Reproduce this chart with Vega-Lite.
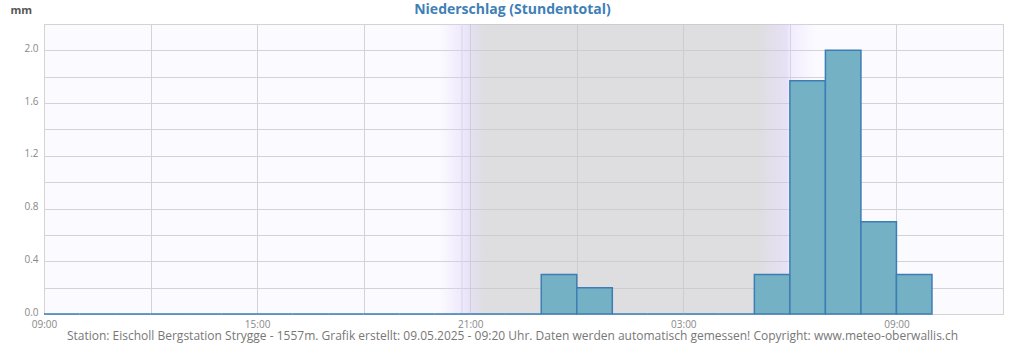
{
  "$schema": "https://vega.github.io/schema/vega-lite/v6.json",
  "width": 959,
  "height": 290,
  "autosize": "none",
  "padding": {"left": 44, "top": 24, "right": 21, "bottom": 36},
  "background": "white",
  "config": {
    "font": "Open Sans",
    "view": {"fill": "#fbfaff", "stroke": "#cccccc"}
  },
  "title": {
    "text": "Niederschlag (Stundentotal)",
    "frame": "group",
    "anchor": "middle",
    "dx": -11,
    "offset": 0,
    "dy": 24,
    "baseline": "alphabetic",
    "fontSize": 14,
    "fontWeight": "bold",
    "color": "#3f7fb6",
    "font": "Open Sans"
  },
  "datasets": {
    "night": [{"start": "2025-05-08T20:09:00Z", "end": "2025-05-09T06:42:00Z"}],
    "sunset": [{"start": "2025-05-08T20:46:00Z"}],
    "rain": [
      {"start": "2025-05-08T09:00:00Z", "end": "2025-05-08T10:00:00Z", "mm": 0},
      {"start": "2025-05-08T10:00:00Z", "end": "2025-05-08T11:00:00Z", "mm": 0},
      {"start": "2025-05-08T11:00:00Z", "end": "2025-05-08T12:00:00Z", "mm": 0},
      {"start": "2025-05-08T12:00:00Z", "end": "2025-05-08T13:00:00Z", "mm": 0},
      {"start": "2025-05-08T13:00:00Z", "end": "2025-05-08T14:00:00Z", "mm": 0},
      {"start": "2025-05-08T14:00:00Z", "end": "2025-05-08T15:00:00Z", "mm": 0},
      {"start": "2025-05-08T15:00:00Z", "end": "2025-05-08T16:00:00Z", "mm": 0},
      {"start": "2025-05-08T16:00:00Z", "end": "2025-05-08T17:00:00Z", "mm": 0},
      {"start": "2025-05-08T17:00:00Z", "end": "2025-05-08T18:00:00Z", "mm": 0},
      {"start": "2025-05-08T18:00:00Z", "end": "2025-05-08T19:00:00Z", "mm": 0},
      {"start": "2025-05-08T19:00:00Z", "end": "2025-05-08T20:00:00Z", "mm": 0},
      {"start": "2025-05-08T20:00:00Z", "end": "2025-05-08T21:00:00Z", "mm": 0},
      {"start": "2025-05-08T21:00:00Z", "end": "2025-05-08T22:00:00Z", "mm": 0},
      {"start": "2025-05-08T22:00:00Z", "end": "2025-05-08T23:00:00Z", "mm": 0},
      {"start": "2025-05-08T23:00:00Z", "end": "2025-05-09T00:00:00Z", "mm": 0.3},
      {"start": "2025-05-09T00:00:00Z", "end": "2025-05-09T01:00:00Z", "mm": 0.2},
      {"start": "2025-05-09T01:00:00Z", "end": "2025-05-09T02:00:00Z", "mm": 0},
      {"start": "2025-05-09T02:00:00Z", "end": "2025-05-09T03:00:00Z", "mm": 0},
      {"start": "2025-05-09T03:00:00Z", "end": "2025-05-09T04:00:00Z", "mm": 0},
      {"start": "2025-05-09T04:00:00Z", "end": "2025-05-09T05:00:00Z", "mm": 0},
      {"start": "2025-05-09T05:00:00Z", "end": "2025-05-09T06:00:00Z", "mm": 0.3},
      {"start": "2025-05-09T06:00:00Z", "end": "2025-05-09T07:00:00Z", "mm": 1.77},
      {"start": "2025-05-09T07:00:00Z", "end": "2025-05-09T08:00:00Z", "mm": 2.0},
      {"start": "2025-05-09T08:00:00Z", "end": "2025-05-09T09:00:00Z", "mm": 0.7},
      {"start": "2025-05-09T09:00:00Z", "end": "2025-05-09T10:00:00Z", "mm": 0.3}
    ]
  },
  "encoding": {
    "x": {
      "field": "start",
      "type": "temporal",
      "scale": {"type": "utc", "domain": [1746694800000, 1746792000000]},
      "axis": {
        "values": [1746694800000, 1746705600000, 1746716400000, 1746727200000, 1746738000000, 1746748800000, 1746759600000, 1746770400000, 1746781200000, 1746792000000],
        "labelExpr": "utchours(datum.value) % 6 == 3 ? utcFormat(datum.value, '%H:%M') : ''",
        "labelOverlap": false,
        "labelFlush": false,
        "labelColor": "#888888",
        "labelFontSize": 10,
        "labelPadding": 5,
        "grid": true,
        "gridColor": "#d3d3d3",
        "ticks": false,
        "domain": false,
        "title": "Station: Eischoll Bergstation Strygge - 1557m. Grafik erstellt: 09.05.2025 - 09:20 Uhr. Daten werden automatisch gemessen! Copyright: www.meteo-oberwallis.ch",
        "titleFontSize": 12,
        "titleFontWeight": "normal",
        "titleColor": "#777777",
        "titlePadding": 1,
        "titleX": 468,
        "titleAlign": "center",
        "titleAnchor": null
      }
    }
  },
  "layer": [
    {
      "data": {"name": "night"},
      "mark": {
        "type": "rect",
        "color": {
          "gradient": "linear",
          "x1": 0, "y1": 0, "x2": 1, "y2": 0,
          "stops": [
            {"offset": 0, "color": "rgba(220,205,250,0)"},
            {"offset": 0.06, "color": "rgba(220,205,250,0.4)"},
            {"offset": 0.085, "color": "rgba(205,200,225,0.52)"},
            {"offset": 0.12, "color": "rgba(200,200,200,0.57)"},
            {"offset": 0.85, "color": "rgba(200,200,200,0.57)"},
            {"offset": 0.925, "color": "rgba(210,200,235,0.5)"},
            {"offset": 0.935, "color": "rgba(220,205,250,0.3)"},
            {"offset": 1, "color": "rgba(220,205,250,0)"}
          ]
        }
      },
      "encoding": {
        "x2": {"field": "end"}
      }
    },
    {
      "data": {"name": "sunset"},
      "mark": {"type": "rule", "color": "#d8d6e0", "strokeWidth": 1},
      "encoding": {}
    },
    {
      "data": {"name": "rain"},
      "mark": {"type": "rect", "fill": "#74b1c5", "stroke": "#3d7db5", "strokeWidth": 1.5},
      "encoding": {
        "x2": {"field": "end"},
        "y": {
          "field": "mm",
          "type": "quantitative",
          "scale": {"domain": [0, 2.2], "nice": false},
          "axis": {
            "values": [0, 0.2, 0.4, 0.6, 0.8, 1.0, 1.2, 1.4, 1.6, 1.8, 2.0, 2.2],
            "labelExpr": "round(datum.value * 10) % 4 == 0 ? format(datum.value, '.1f') : ''",
            "labelColor": "#888888",
            "labelFontSize": 10,
            "labelPadding": 6,
            "labelOffset": -2,
            "labelOverlap": false,
            "grid": true,
            "gridColor": "#d3d3d3",
            "ticks": false,
            "domain": false,
            "title": "mm",
            "titleAngle": 0,
            "titleX": -34,
            "titleY": -14,
            "titleAlign": "left",
            "titleBaseline": "middle",
            "titleFontSize": 11,
            "titleFontWeight": "bold",
            "titleColor": "#555555"
          }
        },
        "y2": {"datum": 0}
      }
    }
  ]
}
